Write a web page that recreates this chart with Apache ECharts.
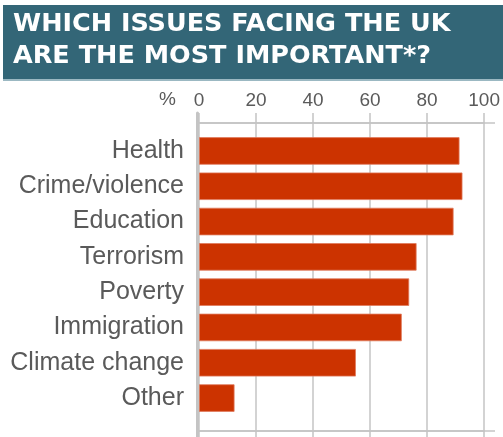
<!DOCTYPE html>
<html>
<head>
<meta charset="utf-8">
<script src="https://cdn.jsdelivr.net/npm/echarts@6/dist/echarts.min.js"></script>
<style>
  html, body { margin: 0; padding: 0; background: #ffffff; }
  #chart { width: 503px; height: 437px; }
</style>
</head>
<body>
<div id="chart"></div>
<script>
// Survey: share naming each issue as one of the most important facing the UK
const categories = ['Health', 'Crime/violence', 'Education', 'Terrorism', 'Poverty', 'Immigration', 'Climate change', 'Other'];
const shares = [88, 89, 86, 73.5, 71, 68.5, 53, 12];
const tickLabels = ['0', '20', '40', '60', '80', '100'];
const titleLines = ['WHICH ISSUES FACING THE UK', 'ARE THE MOST IMPORTANT*?'];
const unitLabel = '%';

const chart = echarts.init(document.getElementById('chart'), null, { renderer: 'canvas' });

const GRID_LEFT = 199, GRID_RIGHT = 8;
const gridColor = '#c4c4c4';
const labelColor = '#5a5a5a';
const labelFont = 'Liberation Sans, Arial, sans-serif';

// a y axis that is present but draws nothing
const silentAxis = (gridIndex) => ({
  gridIndex, type: 'value', min: 0, max: 1,
  axisLine: { show: false }, axisTick: { show: false },
  axisLabel: { show: false }, splitLine: { show: false }
});

chart.setOption({
  animation: false,
  backgroundColor: '#ffffff',
  title: {
    text: titleLines.join('\n'),
    left: 13,
    top: 8,
    padding: 0,
    textStyle: {
      color: '#ffffff',
      fontFamily: 'DejaVu Sans',
      fontWeight: 'bold',
      fontSize: 25.5,
      lineHeight: 32
    },
    z: 10
  },
  graphic: [
    { type: 'rect', shape: { x: 3, y: 5, width: 500, height: 74 }, style: { fill: '#336677' }, z: 0 },
    { type: 'rect', shape: { x: 3, y: 79, width: 500, height: 2 }, style: { fill: '#9bb8c2' }, z: 0 },
    {
      type: 'text', right: 503 - 176, top: 90,
      style: { text: unitLabel, fill: labelColor, font: '19px ' + labelFont, textAlign: 'right' }
    }
  ],
  grid: [
    // frame with gridlines and tick labels
    { left: GRID_LEFT, right: GRID_RIGHT, top: 123, bottom: 6 },
    // bars
    { left: GRID_LEFT, right: GRID_RIGHT, top: 133.3, bottom: 21.3 },
    // zero line
    { left: GRID_LEFT - 1.5, width: 296, top: 113, bottom: 0 },
    // top and bottom frame lines
    { left: GRID_LEFT, right: GRID_RIGHT, top: 123, bottom: 6 }
  ],
  xAxis: [
    {
      gridIndex: 0, type: 'category', position: 'top', data: tickLabels, boundaryGap: false,
      axisLine: { show: true, onZero: false, lineStyle: { color: gridColor, width: 1.5 } },
      axisTick: { show: true, length: 10, lineStyle: { color: gridColor, width: 1.5 } },
      axisLabel: { color: labelColor, fontSize: 19, fontFamily: labelFont, margin: 13 },
      splitLine: { show: true, lineStyle: { color: gridColor, width: 1.5 } }
    },
    {
      gridIndex: 0, type: 'category', position: 'bottom', data: tickLabels, boundaryGap: false,
      axisLine: { show: true, onZero: false, lineStyle: { color: gridColor, width: 1.5 } },
      axisTick: { show: true, length: 8, lineStyle: { color: gridColor, width: 1.5 } },
      axisLabel: { show: false },
      splitLine: { show: false }
    },
    { gridIndex: 1, type: 'value', min: 0, max: 100, show: false },
    { gridIndex: 2, type: 'value', min: 0, max: 100, show: false },
    { gridIndex: 3, type: 'value', min: 0, max: 100, show: false }
  ],
  yAxis: [
    silentAxis(0),
    {
      gridIndex: 1, type: 'category', data: categories, inverse: true,
      axisLine: { show: false },
      axisTick: { show: false },
      axisLabel: {
        color: labelColor, fontSize: 25, fontFamily: labelFont, margin: 15,
        padding: [7, 0, 0, 0]
      },
      splitLine: { show: false }
    },
    {
      gridIndex: 2, type: 'value', min: 0, max: 1,
      axisLine: { show: true, onZero: false, lineStyle: { color: '#c4c4c4', width: 3 } },
      axisTick: { show: false },
      axisLabel: { show: false },
      splitLine: { show: false },
      z: 5
    },
    {
      gridIndex: 3, type: 'value', min: 0, max: 1, interval: 1,
      axisLine: { show: false }, axisTick: { show: false }, axisLabel: { show: false },
      splitLine: { show: true, lineStyle: { color: gridColor, width: 1.5 } }
    }
  ],
  series: [
    {
      type: 'bar',
      xAxisIndex: 2,
      yAxisIndex: 1,
      data: shares,
      barWidth: 27.5,
      itemStyle: { color: '#cc3300', borderColor: '#e07a5c', borderWidth: 0.8 },
      z: 3
    }
  ]
});
</script>
</body>
</html>
